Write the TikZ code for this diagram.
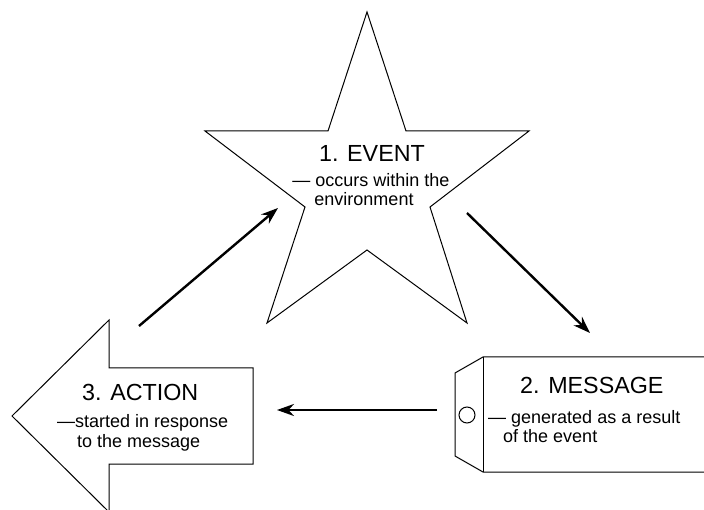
\documentclass[tikz,border=0pt]{standalone}
\usepackage{fontspec}
\setmainfont{Liberation Sans}
\usetikzlibrary{arrows.meta}
\begin{document}
\begin{tikzpicture}[x=1pt,y=-1pt,
  outline/.style={draw, line width=1pt, line join=miter},
  flow/.style={line width=2.4pt, -{Stealth[length=17pt,width=12pt]}},
  title/.style={font=\fontsize{23.3}{27}\selectfont, inner sep=0pt},
  body/.style={font=\fontsize{18}{21}\selectfont, inner sep=0pt}]
\useasboundingbox (0,0) rectangle (704,510);

% 1. event: five-pointed star
\draw[outline] (367,12) -- (406,131) -- (529,131) -- (430,207) -- (467,323)
  -- (367,250) -- (267,323) -- (305,207) -- (205,131) -- (328,131) -- cycle;
\node[title, anchor=base] (evt) at (372,162) {1. EVENT};
\node[body, anchor=base] (evt1) at (371,187) {— occurs within the};
\node[body, anchor=base] (evt2) at (364,206) {environment};

% 2. message: luggage tag running off the right edge
\draw[outline] (705,357) -- (483,357) -- (455,373) -- (455,456) -- (483,472) -- (705,472);
\draw[outline] (483,357) -- (483,472);
\draw[outline] (467,415) circle[radius=8];
\node[title, anchor=base west] (msg) at (520,394) {2. MESSAGE};
\node[body, anchor=base west] (msg1) at (488,423) {— generated as a result};
\node[body, anchor=base west] (msg2) at (503,442) {of the event};

% 3. action: block arrow pointing left
\draw[outline] (12,416) -- (109,320) -- (109,368) -- (253,368) -- (253,464)
  -- (109,464) -- (109,512) -- cycle;
\node[title, anchor=base west] (act) at (82,400) {3. ACTION};
\node[body, anchor=base west] (act1) at (57,428) {—started in response};
\node[body, anchor=base west] (act2) at (77,447) {to the message};

% cycle connectors
\coordinate (a1) at (139,326);
\coordinate (e1) at (278,208);
\coordinate (e2) at (467,213);
\coordinate (m1) at (590,333);
\coordinate (m2) at (437,410);
\coordinate (c1) at (277,410);
\draw[flow] (a1) -- (e1);
\draw[flow] (e2) -- (m1);
\draw[flow] (m2) -- (c1);
\end{tikzpicture}
\end{document}
